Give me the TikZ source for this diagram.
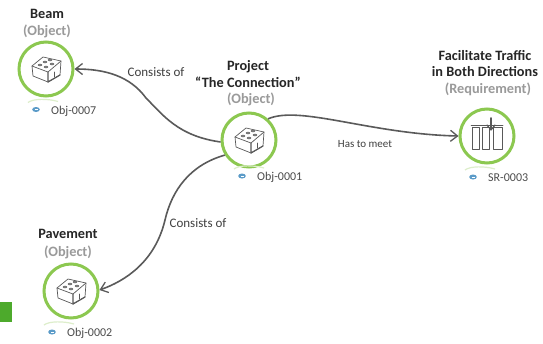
\documentclass[tikz,border=0pt]{standalone}
\usepackage{fontspec}
\setmainfont{Carlito}
\usetikzlibrary{arrows.meta}
\definecolor{ringgreen}{HTML}{8CC850}
\definecolor{squaregreen}{HTML}{4DAA2C}
\definecolor{linegray}{HTML}{5A5A5A}
\definecolor{labelgray}{HTML}{9A9A9A}
\definecolor{idblue}{HTML}{5B9BC8}
\tikzset{
  x=1pt,y=-1pt,
  ring/.style={circle,draw=ringgreen,line width=3pt,fill=white,minimum size=54pt,inner sep=0pt},
  title/.style={align=center,font=\fontsize{14.3}{16.5}\selectfont\bfseries,text=black!85,inner sep=0pt},
  idlabel/.style={font=\fontsize{12}{14}\selectfont,text=black!70,inner sep=0pt,anchor=west},
  rel/.style={font=\fontsize{13}{15}\selectfont,text=black!75,inner sep=0pt},
  conn/.style={draw=linegray,line width=1.6pt,-{Straight Barb[length=7pt,width=11pt,line width=1.3pt]}},
  icon/.style={draw=black!65,line width=.7pt,line join=round,line cap=round},
  shine/.style={draw=ringgreen!30,line width=1.2pt},
  pics/brick/.style={code={
    \draw[icon,fill=white] (-14,-3) -- (-3,-12) -- (15,-8) -- (14,6) -- (2,13) -- (-13,7) -- cycle;
    \draw[icon] (-14,-3) -- (2,3) -- (15,-8);
    \draw[icon,line width=1.2pt] (2,3) -- (2,13) -- (14,6);
    \draw[icon] (8,3) -- (8,8);
    \foreach \a/\b in {-6/-4,-1/-7,4/-9,0/-2,6/-5}
      \draw[icon,fill=black!45,line width=.4pt] (\a,\b) ellipse [x radius=2,y radius=1];
  }},
  pics/gate/.style={code={
    \foreach \a/\w in {-15/7,-5/7,6/9}
      \draw[icon] (\a,13) -- (\a,-9) -- ++(\w,0) -- ++(0,22) -- cycle;
    \draw[icon,line width=.5pt] (-16,-11) -- (16,-11);
    \draw[icon,line width=1.7pt] (4,-18) -- (4,-7);
    \draw[icon,line width=1.2pt] (0,-11) -- (4,-6) -- (8,-11);
  }},
  pics/idmark/.style={code={
    \draw[shine] (-8,-7) .. controls (-3,-11) and (12,-11) .. (22,-8);
    \fill[idblue] (0,0) ellipse [x radius=3.8,y radius=2.5];
    \draw[white,line width=.5pt] (-1.5,0) -- (1.5,0);
  }}
}
\begin{document}
\begin{tikzpicture}
\useasboundingbox (0,0) rectangle (543,343);
\fill[white] (0,0) rectangle (543,343);
\fill[squaregreen] (0,302) rectangle (12,322);

\node[ring] (beam) at (46,69) {};
\node[ring] (proj) at (249,140) {};
\node[ring] (req) at (487,136) {};
\node[ring] (pave) at (71,291) {};

\pic at (46,69) {brick};
\pic at (249,140) {brick};
\pic at (487,136) {gate};
\pic at (71,291) {brick};

\node[title] (t1) at (47,14) {Beam};
\node[title,text=labelgray] (t1b) at (47,31) {(Object)};
\node[title] (t2) at (248,74) {Project\\``The Connection''};
\node[title,text=labelgray] (t2b) at (251,99) {(Object)};
\node[title] (t3) at (485,63.5) {Facilitate Traffic\\in Both Directions};
\node[title,text=labelgray] (t3b) at (488,89) {(Requirement)};
\node[title] (t4) at (68,234) {Pavement};
\node[title,text=labelgray] (t4b) at (68,252) {(Object)};

\pic at (36,109.5) {idmark};
\node[idlabel] (i1) at (51,111) {Obj-0007};
\pic at (242,176) {idmark};
\node[idlabel] (i2) at (257,177) {Obj-0001};
\pic at (473,177) {idmark};
\node[idlabel] (i3) at (488,178) {SR-0003};
\pic at (52,332) {idmark};
\node[idlabel] (i4) at (67,333) {Obj-0002};

\coordinate (b1) at (146,98);
\coordinate (p1) at (165,220);
\draw[conn] (proj.184) .. controls (178,136) and (163,115) .. (b1) .. controls (130,76) and (105,69) .. (beam.0);
\draw[conn] (proj.212) .. controls (190,165) and (172,190) .. (p1) .. controls (155,262) and (125,281) .. (pave.2);
\draw[conn] (proj.48) .. controls (300,105) and (370,134) .. (req.180);

\node[rel] (r1) at (156,72) {Consists of};
\node[rel] (r2) at (198,223) {Consists of};
\node[rel,font=\fontsize{11}{13}\selectfont] (r3) at (365,144) {Has to meet};
\end{tikzpicture}
\end{document}
